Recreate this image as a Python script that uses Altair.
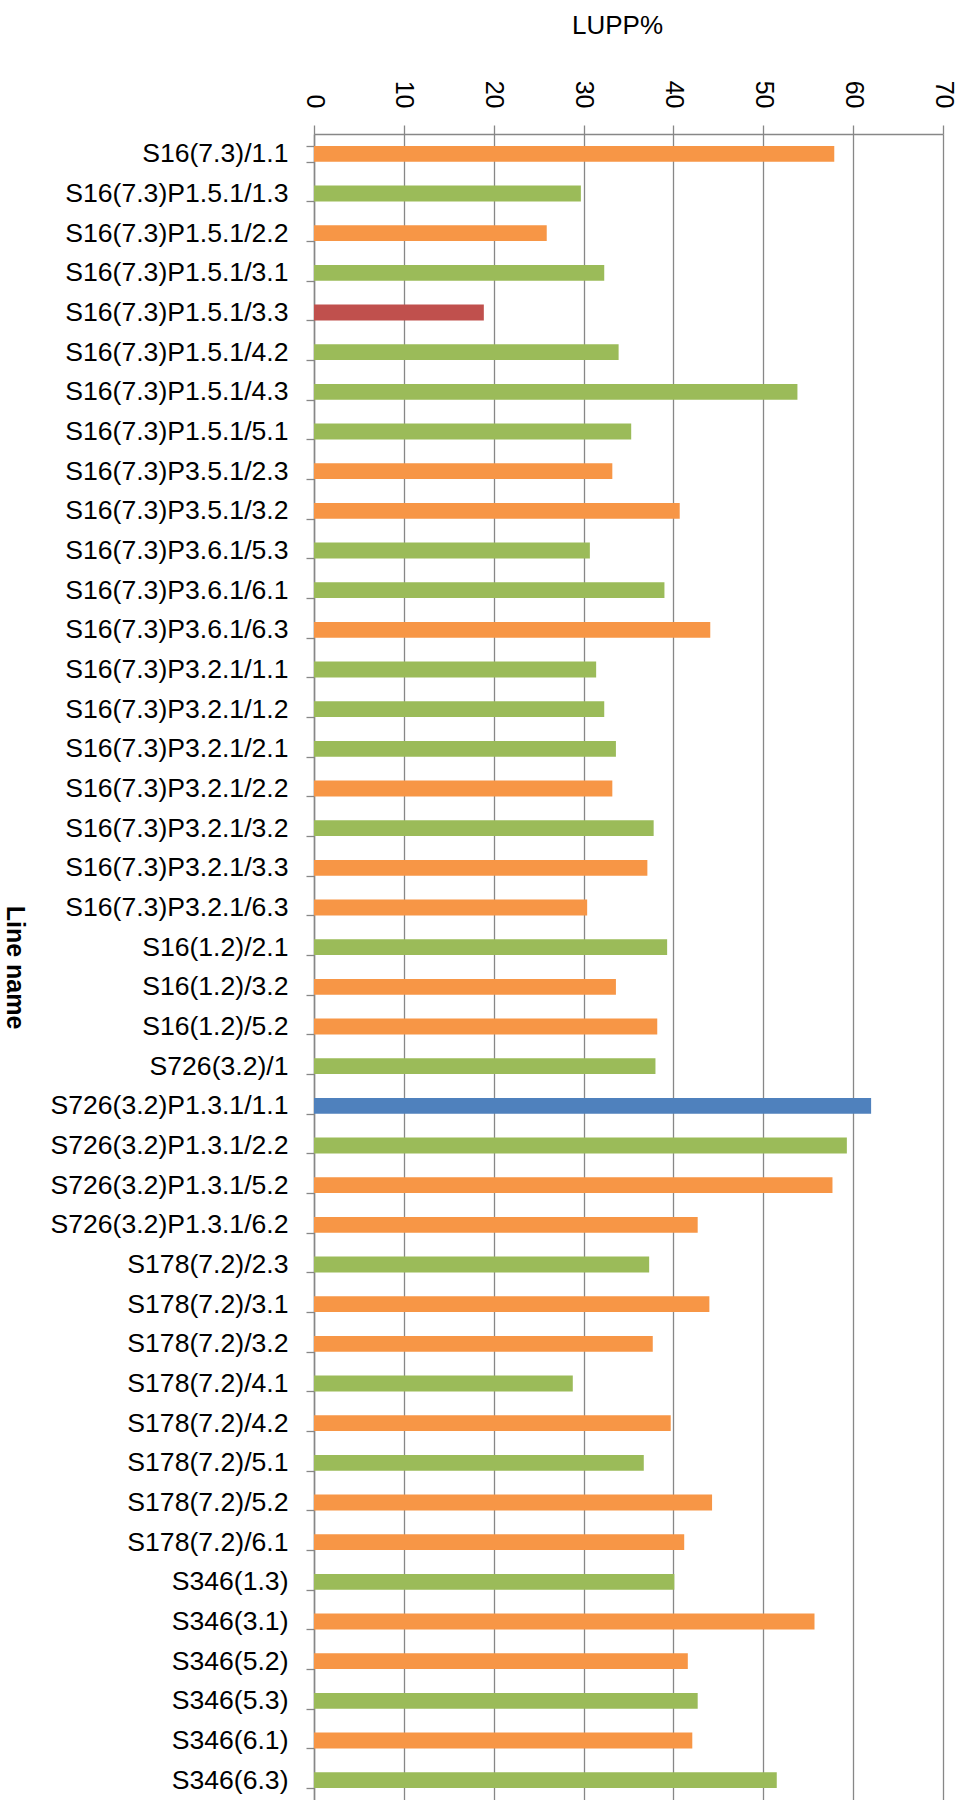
import altair as alt
import pandas as pd

names = [
    "S16(7.3)/1.1", "S16(7.3)P1.5.1/1.3", "S16(7.3)P1.5.1/2.2", "S16(7.3)P1.5.1/3.1",
    "S16(7.3)P1.5.1/3.3", "S16(7.3)P1.5.1/4.2", "S16(7.3)P1.5.1/4.3", "S16(7.3)P1.5.1/5.1",
    "S16(7.3)P3.5.1/2.3", "S16(7.3)P3.5.1/3.2", "S16(7.3)P3.6.1/5.3", "S16(7.3)P3.6.1/6.1",
    "S16(7.3)P3.6.1/6.3", "S16(7.3)P3.2.1/1.1", "S16(7.3)P3.2.1/1.2", "S16(7.3)P3.2.1/2.1",
    "S16(7.3)P3.2.1/2.2", "S16(7.3)P3.2.1/3.2", "S16(7.3)P3.2.1/3.3", "S16(7.3)P3.2.1/6.3",
    "S16(1.2)/2.1", "S16(1.2)/3.2", "S16(1.2)/5.2", "S726(3.2)/1",
    "S726(3.2)P1.3.1/1.1", "S726(3.2)P1.3.1/2.2", "S726(3.2)P1.3.1/5.2", "S726(3.2)P1.3.1/6.2",
    "S178(7.2)/2.3", "S178(7.2)/3.1", "S178(7.2)/3.2", "S178(7.2)/4.1",
    "S178(7.2)/4.2", "S178(7.2)/5.1", "S178(7.2)/5.2", "S178(7.2)/6.1",
    "S346(1.3)", "S346(3.1)", "S346(5.2)", "S346(5.3)", "S346(6.1)", "S346(6.3)",
]

lupp = [
    57.9, 29.7, 25.9, 32.3,
    18.9, 33.9, 53.8, 35.3,
    33.2, 40.7, 30.7, 39.0,
    44.1, 31.4, 32.3, 33.6,
    33.2, 37.8, 37.1, 30.4,
    39.3, 33.6, 38.2, 38.0,
    62.0, 59.3, 57.7, 42.7,
    37.3, 44.0, 37.7, 28.8,
    39.7, 36.7, 44.3, 41.2,
    40.1, 55.7, 41.6, 42.7, 42.1, 51.5,
]

O, G, R, B = "#F79646", "#9BBB59", "#C0504D", "#4F81BD"
colors = [
    O, G, O, G,
    R, G, G, G,
    O, O, G, G,
    O, G, G, G,
    O, G, O, O,
    G, O, O, G,
    B, G, O, O,
    G, O, O, G,
    O, G, O, O,
    G, O, O, G, O, G,
]

df = pd.DataFrame({"name": names, "lupp": lupp, "color": colors})

grid_gray = "#878787"

chart = alt.Chart(df).mark_bar().encode(
    y=alt.Y(
        "name:N",
        sort=names,
        scale=alt.Scale(paddingInner=0.6, paddingOuter=0.3),
        axis=alt.Axis(
            title="Line name",
            titleFont="Liberation Sans",
            titleFontSize=25,
            titleFontWeight="bold",
            titleColor="black",
            titleAngle=90,
            titleAlign="center",
            titleBaseline="middle",
            titleX=-300,
            titleY=833,
            labelFont="Liberation Sans",
            labelFontSize=26.6,
            labelColor="black",
            labelPadding=18,
            labelLimit=400,
            tickBand="extent",
            tickSize=8,
            tickColor=grid_gray,
            tickWidth=1.3,
            domainColor=grid_gray,
            domainWidth=1.5,
            grid=False,
        ),
    ),
    x=alt.X(
        "lupp:Q",
        scale=alt.Scale(domain=[0, 70], nice=False),
        axis=alt.Axis(
            orient="top",
            title="LUPP%",
            titleFont="Liberation Sans",
            titleFontSize=26,
            titleFontWeight="normal",
            titleColor="black",
            titleAngle=0,
            titleAlign="center",
            titleBaseline="middle",
            titleX=303,
            titleY=-109,
            values=[0, 10, 20, 30, 40, 50, 60, 70],
            labelFont="Liberation Sans",
            labelFontSize=25,
            labelColor="black",
            labelAngle=90,
            labelPadding=17,
            tickSize=9,
            tickColor=grid_gray,
            tickWidth=1.3,
            domainColor=grid_gray,
            domainWidth=1.5,
            grid=True,
            gridColor=grid_gray,
            gridWidth=1.3,
        ),
    ),
    color=alt.Color("color:N", scale=None),
).properties(
    width=629,
    height=1666,
    autosize=alt.AutoSizeParams(type="none"),
    padding={"left": 314, "top": 134, "right": 24, "bottom": 0},
).configure_view(stroke=None)

chart.save("out.html", embed_options={"renderer": "svg", "actions": False})
